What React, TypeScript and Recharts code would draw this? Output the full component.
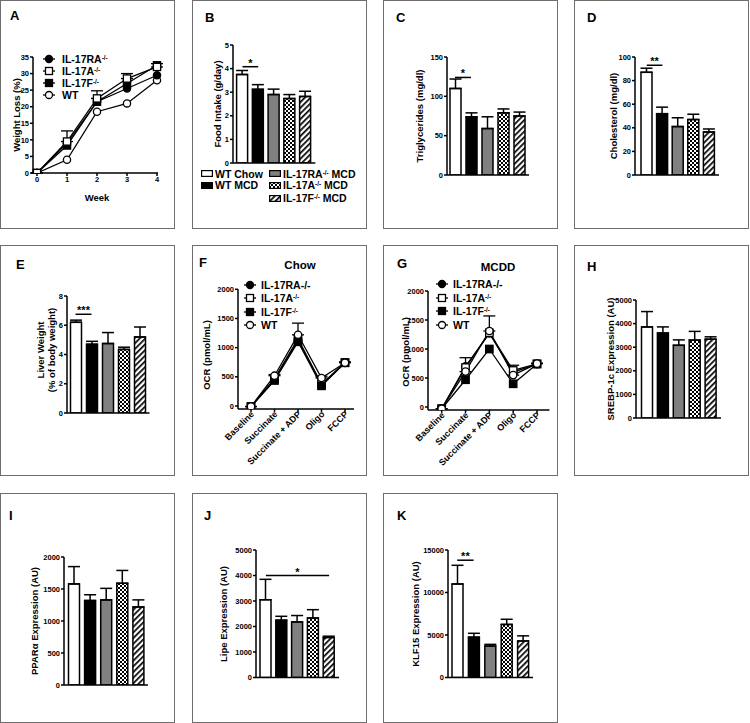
import React from "react";
import {
  BarChart,
  Bar,
  LineChart,
  Line,
  XAxis,
  YAxis,
  ErrorBar,
  Cell,
  ReferenceLine,
} from "recharts";

const FONT = '"Liberation Sans", Arial, Helvetica, sans-serif';

// bar groups, same order in every bar panel
const groups = ["WT Chow", "WT MCD", "IL-17RA-/- MCD", "IL-17A-/- MCD", "IL-17F-/- MCD"];

// B food intake (g/day)
const foodIntake = [3.75, 3.12, 2.9, 2.73, 2.82];
const foodIntakeErr = [0.17, 0.2, 0.23, 0.17, 0.22];
// C triglycerides (mg/dl)
const triglycerides = [110, 74, 59, 79, 75];
const triglyceridesErr = [12, 5, 15, 5, 5];
// D cholesterol (mg/dl)
const cholesterol = [87, 52, 41, 47, 36.5];
const cholesterolErr = [3.5, 5.5, 7.5, 4.5, 2.5];
// E liver weight (% body weight)
const liverWeight = [6.2, 4.7, 4.75, 4.35, 5.2];
const liverWeightErr = [0.15, 0.2, 0.75, 0.15, 0.68];
// H SREBP-1c
const srebp = [3860, 3600, 3080, 3300, 3340];
const srebpErr = [650, 260, 230, 370, 100];
// I PPARa
const ppara = [1580, 1320, 1330, 1590, 1220];
const pparaErr = [270, 90, 180, 200, 110];
// J Lipe
const lipe = [3050, 2250, 2180, 2330, 1570];
const lipeErr = [800, 150, 250, 330, 50];
// K KLF15
const klf15 = [11000, 4750, 3700, 6250, 4300];
const klf15Err = [2200, 450, 200, 600, 600];

// A weight loss by week
const weeks = [0, 1, 2, 3, 4];
const wlRA = [0, 9, 21.5, 25.5, 29.5];
const wlA = [0, 9.5, 22.5, 28.5, 32];
const wlF = [0, 8.3, 21.5, 27, 32.5];
const wlWT = [0, 4, 18.5, 21, 28];
const wlAErr = [0, 3.2, 2.3, 1.5, 1];

// F / G oxygen consumption
const steps = ["Baseline", "Succinate", "Succinate + ADP", "Oligo", "FCCP"];
const chowRA = [-10, 450, 1130, 365, 740];
const chowA = [-10, 470, 1150, 375, 745];
const chowF = [-10, 437, 1100, 345, 740];
const chowWT = [-10, 519, 1220, 480, 742];
const chowWTErr = [0, 20, 200, 30, 15];
const mcdRA = [-30, 700, 1270, 600, 740];
const mcdA = [-30, 680, 1280, 630, 745];
const mcdF = [-30, 470, 1000, 400, 740];
const mcdWT = [-30, 610, 1310, 550, 747];
const mcdWTErr = [0, 240, 260, 170, 10];

const AXIS = { stroke: "#000", strokeWidth: 1.5 };
const TICK = { fontSize: 7.5, fontWeight: 700, fill: "#000", fontFamily: FONT };
const YW = 30;

const patternDefs = (id: string) => (
  <defs>
    <pattern id={`chk-${id}`} width={4} height={4} patternUnits="userSpaceOnUse">
      <rect width={4} height={4} fill="#fff" />
      <rect width={2} height={2} fill="#000" />
      <rect x={2} y={2} width={2} height={2} fill="#000" />
    </pattern>
    <pattern
      id={`hatch-${id}`}
      width={4}
      height={4}
      patternUnits="userSpaceOnUse"
      patternTransform="rotate(45)"
    >
      <rect width={4} height={4} fill="#fff" />
      <rect width={1.7} height={4} fill="#000" />
    </pattern>
  </defs>
);

const fillsFor = (id: string) => ["#ffffff", "#000000", "#808080", `url(#chk-${id})`, `url(#hatch-${id})`];

function Box({ x, y, w, h }: any) {
  return (
    <div
      style={{
        position: "absolute",
        left: x,
        top: y,
        width: w,
        height: h,
        border: "1px solid #6e6e6e",
        boxSizing: "border-box",
      }}
    />
  );
}

function Letter({ x, y, t }: any) {
  return (
    <div style={{ position: "absolute", left: x, top: y - 2, fontSize: 13, lineHeight: "13px", fontWeight: 700 }}>
      {t}
    </div>
  );
}

function Txt({ x, y, size = 9.5, children }: any) {
  return (
    <div
      style={{
        position: "absolute",
        left: x,
        top: y,
        transform: "translate(-50%,-50%)",
        whiteSpace: "nowrap",
        fontSize: size,
        fontWeight: 700,
        lineHeight: "11px",
      }}
    >
      {children}
    </div>
  );
}

function YTitle({ x, y, children }: any) {
  return (
    <div
      style={{
        position: "absolute",
        left: x,
        top: y,
        transform: "translate(-50%,-50%) rotate(-90deg)",
        whiteSpace: "nowrap",
        textAlign: "center",
        fontSize: 9.5,
        fontWeight: 700,
        lineHeight: "11px",
      }}
    >
      {children}
    </div>
  );
}

const Sup = ({ children }: any) => (
  <sup style={{ fontSize: "0.6em", lineHeight: 0, verticalAlign: "0.55em" }}>{children}</sup>
);

type Sig = { from: number; to: number; at: number; text: string };

function BarPanel({ id, box, axisX, bandStart, band, yTop, y0, max, ticks, values, errs, sig }: any) {
  const [bx, by, bw, bh] = box;
  const data = groups.map((g, i) => ({ g, v: values[i], e: [0, errs[i]] }));
  const padL = Math.max(0, bandStart - axisX);
  const plotW = padL + band * 5 + 2;
  const margin = {
    top: yTop - by,
    left: axisX - bx - YW,
    right: bw - (axisX - bx) - plotW,
    bottom: bh - (y0 - by) - 1,
  };
  const fills = fillsFor(id);
  const s: Sig | undefined = sig;
  return (
    <div style={{ position: "absolute", left: bx, top: by }}>
      <BarChart width={bw} height={bh} data={data} margin={margin} barCategoryGap={0}>
        {patternDefs(id)}
        <XAxis
          dataKey="g"
          tick={false}
          tickLine={false}
          height={1}
          padding={{ left: padL, right: 2 }}
          axisLine={AXIS}
        />
        <YAxis
          width={YW}
          domain={[0, max]}
          ticks={ticks}
          interval={0}
          tickSize={3}
          tickMargin={1}
          tickLine={AXIS}
          axisLine={AXIS}
          tick={TICK}
          allowDataOverflow
        />
        <Bar dataKey="v" barSize={11} stroke="#000" strokeWidth={1.5} isAnimationActive={false}>
          {data.map((d, i) => (
            <Cell key={d.g} fill={fills[i]} />
          ))}
          <ErrorBar dataKey="e" direction="y" width={6} stroke="#000" strokeWidth={1.5} />
        </Bar>
        {s && (
          <ReferenceLine
            segment={[
              { x: groups[s.from], y: s.at },
              { x: groups[s.to], y: s.at },
            ]}
            stroke="#000"
            strokeWidth={1.5}
            ifOverflow="visible"
            label={{ value: s.text, position: "top", offset: 0, fill: "#000", fontSize: 11, fontWeight: 700 }}
          />
        )}
      </BarChart>
    </div>
  );
}

const lineSeries = [
  { key: "ra", shape: "circle", fill: "#000" },
  { key: "a", shape: "square", fill: "#fff" },
  { key: "f", shape: "square", fill: "#000" },
  { key: "wt", shape: "circle", fill: "#fff" },
];

const marker = (shape: string, fill: string, s = 3.6) => (p: any) =>
  shape === "circle" ? (
    <circle key={p.index} cx={p.cx} cy={p.cy} r={s} fill={fill} stroke="#000" strokeWidth={1.3} />
  ) : (
    <rect
      key={p.index}
      x={p.cx - s}
      y={p.cy - s}
      width={s * 2}
      height={s * 2}
      fill={fill}
      stroke="#000"
      strokeWidth={1.3}
    />
  );

function LineLegend({ x, textX, ys, labels }: any) {
  return (
    <>
      {lineSeries.map((ser, i) => (
        <React.Fragment key={ser.key}>
          <svg
            width={16}
            height={10}
            style={{ position: "absolute", left: x - 8, top: ys[i] - 5, overflow: "visible" }}
          >
            <line x1={2} y1={5} x2={14} y2={5} stroke="#000" strokeWidth={1.3} />
            {marker(ser.shape, ser.fill, 3.5)({ cx: 8, cy: 5, index: 0 })}
          </svg>
          <div
            style={{
              position: "absolute",
              left: textX,
              top: ys[i] - 6,
              fontSize: 10.5,
              lineHeight: "12px",
              fontWeight: 700,
              whiteSpace: "nowrap",
            }}
          >
            {labels[i]}
          </div>
        </React.Fragment>
      ))}
    </>
  );
}

const RotTick = (p: any) => (
  <g transform={`translate(${p.x},${p.y})`}>
    <text
      x={0}
      y={0}
      dx={2}
      dy="0.35em"
      textAnchor="end"
      transform="rotate(-45)"
      fontSize={9}
      fontWeight={700}
      fontFamily={FONT}
      fill="#000"
    >
      {p.payload.value}
    </text>
  </g>
);

function WeightPanel() {
  const [bx, by, bw, bh] = [0, 0, 175, 229];
  const axisX = 33;
  const yTop = 57;
  const y0 = 173;
  const right = 158;
  const data = weeks.map((w, i) => ({
    w,
    ra: wlRA[i],
    a: wlA[i],
    aErr: [0, wlAErr[i]],
    f: wlF[i],
    wt: wlWT[i],
  }));
  const margin = { top: yTop - by, left: axisX - bx - YW, right: bx + bw - right, bottom: by + bh - y0 - 20 };
  const order = [3, 0, 2, 1];
  return (
    <div style={{ position: "absolute", left: bx, top: by }}>
      <LineChart width={bw} height={bh} data={data} margin={margin}>
        <XAxis
          dataKey="w"
          type="number"
          domain={[0, 4]}
          ticks={weeks}
          interval={0}
          tickSize={3}
          tickMargin={1}
          padding={{ left: 4, right: 1 }}
          height={20}
          axisLine={AXIS}
          tickLine={AXIS}
          tick={TICK}
        />
        <YAxis
          width={YW}
          domain={[0, 35]}
          ticks={[0, 5, 10, 15, 20, 25, 30, 35]}
          interval={0}
          tickSize={3}
          tickMargin={1}
          axisLine={AXIS}
          tickLine={AXIS}
          tick={TICK}
          allowDataOverflow
        />
        {order.map((k) => {
          const ser = lineSeries[k];
          return (
            <Line
              key={ser.key}
              dataKey={ser.key}
              type="linear"
              stroke="#000"
              strokeWidth={1.3}
              dot={marker(ser.shape, ser.fill)}
              activeDot={false}
              isAnimationActive={false}
            >
              {ser.key === "a" && (
                <ErrorBar dataKey="aErr" direction="y" width={6} stroke="#000" strokeWidth={1.3} />
              )}
            </Line>
          );
        })}
      </LineChart>
    </div>
  );
}

function OcrPanel({ box, axisX, yTop, yBot, padL, padR, plotW, series, err }: any) {
  const [bx, by, bw, bh] = box;
  const data = steps.map((s, i) => ({
    s,
    ra: series[0][i],
    a: series[1][i],
    f: series[2][i],
    wt: series[3][i],
    wtErr: [0, err[i]],
  }));
  const margin = {
    top: yTop - by,
    left: axisX - bx - YW,
    right: bw - (axisX - bx) - plotW,
    bottom: bh - (yBot - by) - 1,
  };
  return (
    <div style={{ position: "absolute", left: bx, top: by }}>
      <LineChart width={bw} height={bh} data={data} margin={margin}>
        <XAxis
          dataKey="s"
          interval={0}
          tickSize={3}
          tickMargin={2}
          height={1}
          padding={{ left: padL, right: padR }}
          axisLine={AXIS}
          tickLine={AXIS}
          tick={<RotTick />}
        />
        <YAxis
          width={YW}
          domain={[-50, 2000]}
          ticks={[0, 500, 1000, 1500, 2000]}
          interval={0}
          tickSize={3}
          tickMargin={1}
          axisLine={AXIS}
          tickLine={AXIS}
          tick={TICK}
          allowDataOverflow
        />
        {lineSeries.map((ser) => (
          <Line
            key={ser.key}
            dataKey={ser.key}
            type="linear"
            stroke="#000"
            strokeWidth={1.3}
            dot={marker(ser.shape, ser.fill, 3.7)}
            activeDot={false}
            isAnimationActive={false}
          >
            {ser.key === "wt" && (
              <ErrorBar dataKey="wtErr" direction="y" width={6} stroke="#000" strokeWidth={1.3} />
            )}
          </Line>
        ))}
      </LineChart>
    </div>
  );
}

function BarLegend() {
  const items = [
    { x: 201, y: 173.5, i: 0, label: <>WT Chow</> },
    { x: 201, y: 185, i: 1, label: <>WT MCD</> },
    { x: 269, y: 173.5, i: 2, label: <>IL-17RA<Sup>-/-</Sup> MCD</> },
    { x: 269, y: 185, i: 3, label: <>IL-17A<Sup>-/-</Sup> MCD</> },
    { x: 269, y: 198, i: 4, label: <>IL-17F<Sup>-/-</Sup> MCD</> },
  ];
  const fills = fillsFor("leg");
  return (
    <>
      <svg width={0} height={0} style={{ position: "absolute" }}>
        {patternDefs("leg")}
      </svg>
      {items.map((it) => (
        <React.Fragment key={it.i}>
          <svg width={12} height={7} style={{ position: "absolute", left: it.x, top: it.y - 3.5 }}>
            <rect x={0.6} y={0.6} width={10.8} height={5.8} fill={fills[it.i]} stroke="#000" strokeWidth={1.2} />
          </svg>
          <div
            style={{
              position: "absolute",
              left: it.x + 14,
              top: it.y - 6,
              fontSize: 10.5,
              lineHeight: "12px",
              fontWeight: 700,
              whiteSpace: "nowrap",
            }}
          >
            {it.label}
          </div>
        </React.Fragment>
      ))}
    </>
  );
}

const koLabels = [
  <>IL-17RA<Sup>-/-</Sup></>,
  <>IL-17A<Sup>-/-</Sup></>,
  <>IL-17F<Sup>-/-</Sup></>,
  <>WT</>,
];
const ocrLabels = [<>IL-17RA-/-</>, <>IL-17A<Sup>-/-</Sup></>, <>IL-17F<Sup>-/-</Sup></>, <>WT</>];

const COLS = [0, 192, 383, 574];
const ROWS = [
  [0, 229],
  [245, 231],
  [493, 230],
];

export default function App() {
  return (
    <div
      style={{
        position: "absolute",
        left: 0,
        top: 0,
        width: 750,
        height: 723,
        background: "#fff",
        fontFamily: FONT,
        color: "#000",
        overflow: "hidden",
      }}
    >
      {ROWS.map(([y, h], r) =>
        COLS.map((x, c) => (r === 2 && c === 3 ? null : <Box key={`${r}-${c}`} x={x} y={y} w={175} h={h} />))
      )}

      {/* A */}
      <WeightPanel />
      <Letter x={10} y={11} t="A" />
      <YTitle x={16} y={115}>Weight Loss (%)</YTitle>
      <Txt x={97} y={197}>Week</Txt>
      <LineLegend x={49} textX={62} ys={[58.5, 70.8, 83.1, 95.4]} labels={koLabels} />

      {/* B */}
      <BarPanel
        id="b"
        box={[192, 0, 175, 229]}
        axisX={233}
        bandStart={234.6}
        band={15.75}
        yTop={45}
        y0={163}
        max={5}
        ticks={[0, 1, 2, 3, 4, 5]}
        values={foodIntake}
        errs={foodIntakeErr}
        sig={{ from: 0, to: 1, at: 4.08, text: "*" }}
      />
      <Letter x={205} y={13} t="B" />
      <YTitle x={217} y={104}>Food Intake (g/day)</YTitle>
      <BarLegend />

      {/* C */}
      <BarPanel
        id="c"
        box={[383, 0, 175, 229]}
        axisX={447}
        bandStart={447}
        band={16}
        yTop={57}
        y0={175}
        max={150}
        ticks={[0, 50, 100, 150]}
        values={triglycerides}
        errs={triglyceridesErr}
        sig={{ from: 0, to: 1, at: 124, text: "*" }}
      />
      <Letter x={396} y={13} t="C" />
      <YTitle x={419} y={116}>Triglycerides (mg/dl)</YTitle>

      {/* D */}
      <BarPanel
        id="d"
        box={[574, 0, 175, 229]}
        axisX={635}
        bandStart={639}
        band={15.6}
        yTop={57}
        y0={175}
        max={100}
        ticks={[0, 20, 40, 60, 80, 100]}
        values={cholesterol}
        errs={cholesterolErr}
        sig={{ from: 0, to: 1, at: 93, text: "**" }}
      />
      <Letter x={587} y={13} t="D" />
      <YTitle x={613} y={116}>Cholesterol (mg/dl)</YTitle>

      {/* E */}
      <BarPanel
        id="e"
        box={[0, 245, 175, 231]}
        axisX={67}
        bandStart={67.5}
        band={16}
        yTop={296}
        y0={413}
        max={8}
        ticks={[0, 2, 4, 6, 8]}
        values={liverWeight}
        errs={liverWeightErr}
        sig={{ from: 0, to: 1, at: 6.75, text: "***" }}
      />
      <Letter x={16} y={260} t="E" />
      <YTitle x={45.5} y={350}>
        Liver Weight
        <br />
        (% of body weight)
      </YTitle>

      {/* F */}
      <OcrPanel
        box={[192, 245, 175, 231]}
        axisX={238}
        yTop={289.3}
        yBot={408.9}
        padL={13}
        padR={9}
        plotW={116}
        series={[chowRA, chowA, chowF, chowWT]}
        err={chowWTErr}
      />
      <Letter x={199} y={258} t="F" />
      <Txt x={300} y={265} size={11.5}>Chow</Txt>
      <YTitle x={206} y={355}>OCR (pmol/mL)</YTitle>
      <LineLegend x={250} textX={261} ys={[285, 298.3, 311.7, 325]} labels={ocrLabels} />

      {/* G */}
      <OcrPanel
        box={[383, 245, 175, 231]}
        axisX={428}
        yTop={291}
        yBot={409.9}
        padL={13.7}
        padR={12.5}
        plotW={121.5}
        series={[mcdRA, mcdA, mcdF, mcdWT]}
        err={mcdWTErr}
      />
      <Letter x={397} y={259} t="G" />
      <Txt x={498} y={267} size={11.5}>MCDD</Txt>
      <YTitle x={405} y={352}>OCR (pmol/mL)</YTitle>
      <LineLegend x={441.7} textX={453} ys={[284, 297.5, 311, 324.5]} labels={ocrLabels} />

      {/* H */}
      <BarPanel
        id="h"
        box={[574, 245, 175, 231]}
        axisX={636}
        bandStart={639.5}
        band={15.9}
        yTop={300}
        y0={418}
        max={5000}
        ticks={[0, 1000, 2000, 3000, 4000, 5000]}
        values={srebp}
        errs={srebpErr}
      />
      <Letter x={587} y={262} t="H" />
      <YTitle x={610} y={359}>SREBP-1c Expression (AU)</YTitle>

      {/* I */}
      <BarPanel
        id="i"
        box={[0, 493, 175, 230]}
        axisX={64}
        bandStart={65.5}
        band={16.1}
        yTop={557}
        y0={685}
        max={2000}
        ticks={[0, 500, 1000, 1500, 2000]}
        values={ppara}
        errs={pparaErr}
      />
      <Letter x={9} y={511} t="I" />
      <YTitle x={34} y={621}>PPARα Expression (AU)</YTitle>

      {/* J */}
      <BarPanel
        id="j"
        box={[192, 493, 175, 230]}
        axisX={256}
        bandStart={258}
        band={15.8}
        yTop={550}
        y0={677.5}
        max={5000}
        ticks={[0, 1000, 2000, 3000, 4000, 5000]}
        values={lipe}
        errs={lipeErr}
        sig={{ from: 0, to: 4, at: 4000, text: "*" }}
      />
      <Letter x={204} y={511} t="J" />
      <YTitle x={223} y={614}>Lipe Expression (AU)</YTitle>

      {/* K */}
      <BarPanel
        id="k"
        box={[383, 493, 175, 230]}
        axisX={448}
        bandStart={449}
        band={16.4}
        yTop={550}
        y0={677.5}
        max={15000}
        ticks={[0, 5000, 10000, 15000]}
        values={klf15}
        errs={klf15Err}
        sig={{ from: 0, to: 1, at: 13800, text: "**" }}
      />
      <Letter x={397} y={511} t="K" />
      <YTitle x={415} y={614}>KLF15 Expression (AU)</YTitle>
    </div>
  );
}
